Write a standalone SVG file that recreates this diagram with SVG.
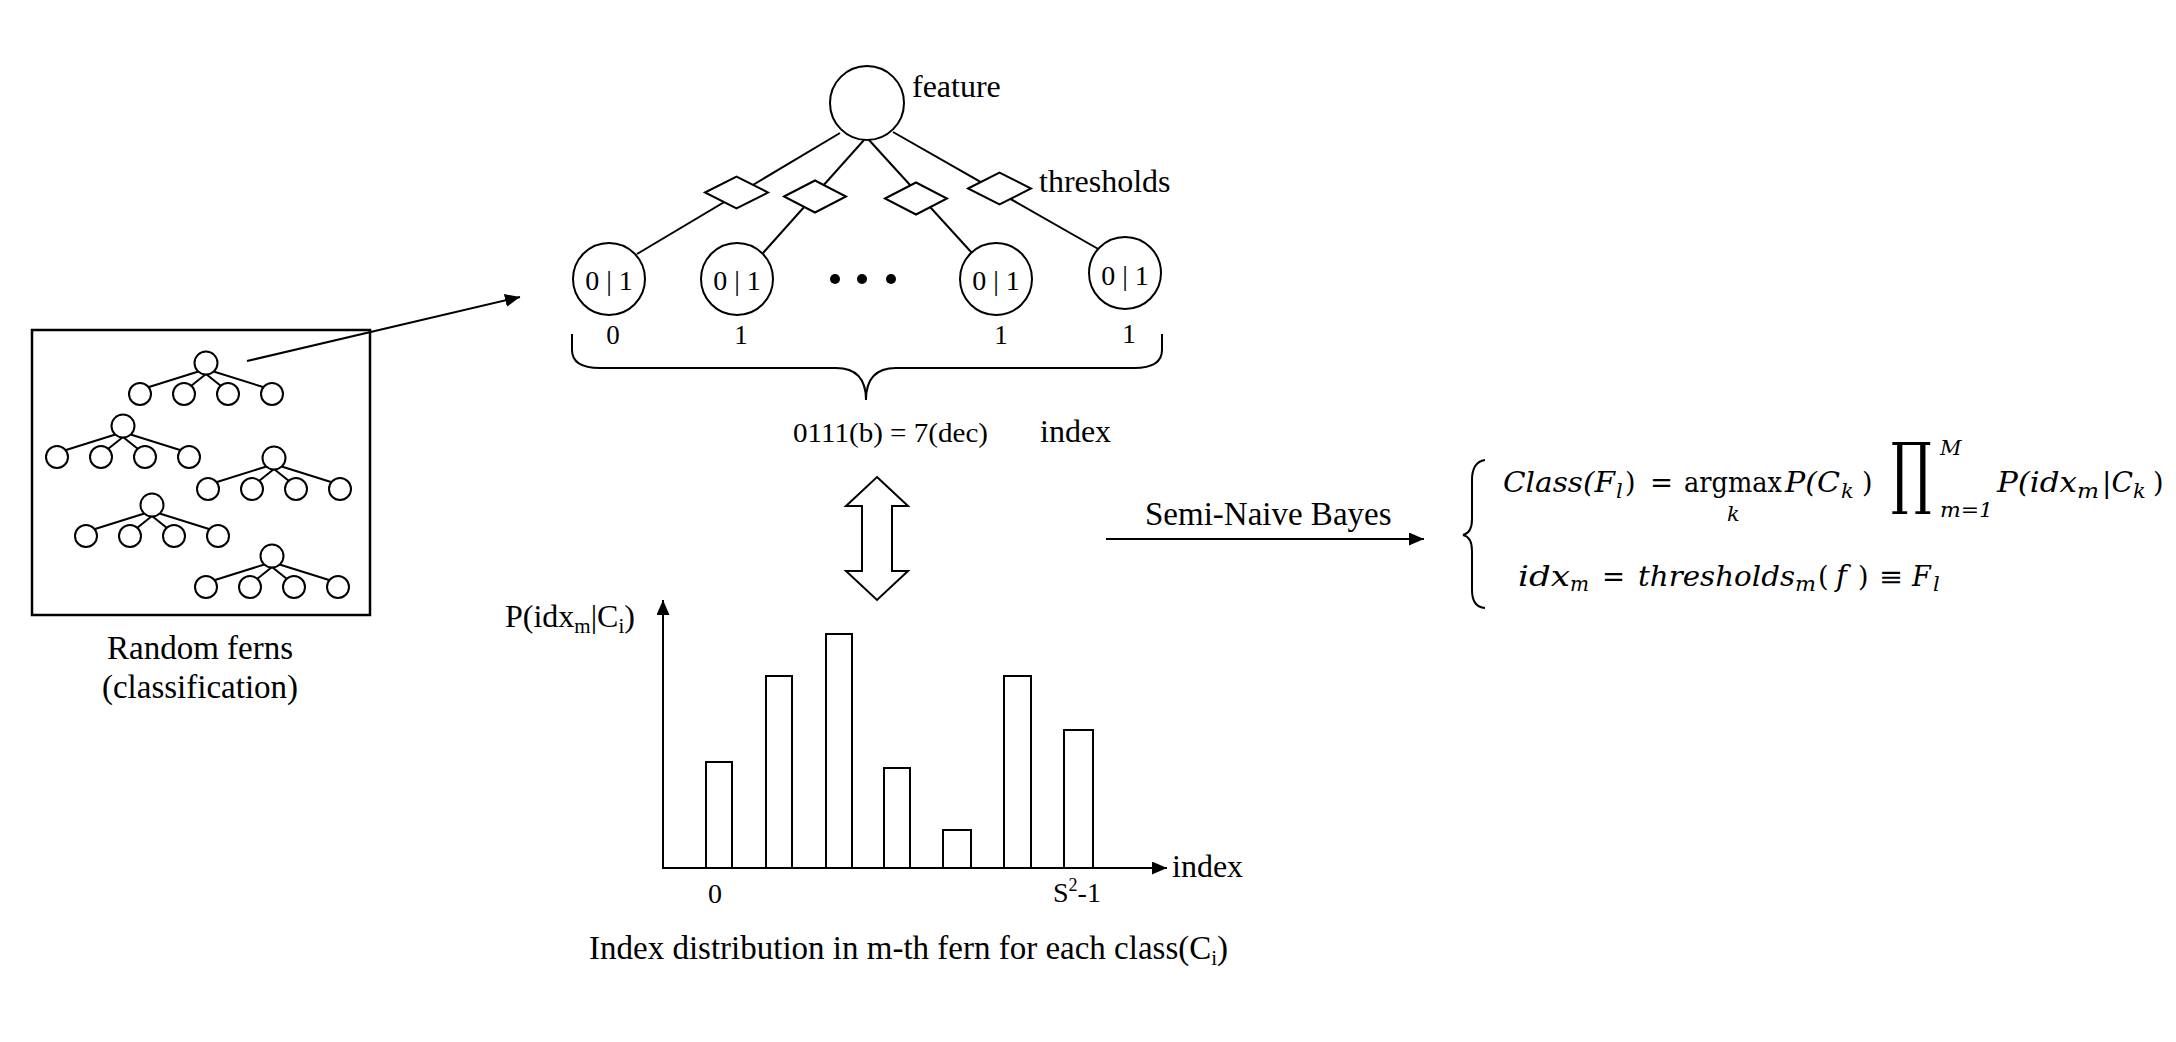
<svg xmlns="http://www.w3.org/2000/svg" xmlns:xlink="http://www.w3.org/1999/xlink" width="2176" height="1042" viewBox="0 0 2176 1042">
<style>
.ln{stroke:#000;stroke-width:2;fill:none}
.nd{stroke:#000;stroke-width:2;fill:#fff}
.tx{font-family:"Liberation Serif","Times New Roman",serif;fill:#000}
.mi{font-family:"DejaVu Serif",serif;font-style:italic;fill:#000}
.mu{font-family:"DejaVu Serif",serif;fill:#000}
.m27{font-size:27px}
.m19{font-size:21px}
.dot{fill:#000}
</style>
<defs>
<marker id="ah" markerUnits="userSpaceOnUse" markerWidth="16" markerHeight="14" refX="15" refY="6.5" orient="auto">
<path d="M0,0 L15,6.5 L0,13 z" fill="#000"/>
</marker>
<g id="fern">
<path class="ln" d="M-6,8 L-57,24 M0,11 L-15,23 M0,11 L15,23 M6,8 L57,24"/>
<circle class="nd" cx="0" cy="0" r="11.5"/>
<circle class="nd" cx="-66" cy="31" r="11"/>
<circle class="nd" cx="-22" cy="31" r="11"/>
<circle class="nd" cx="22" cy="31" r="11"/>
<circle class="nd" cx="66" cy="31" r="11"/>
</g>
</defs>
<rect width="2176" height="1042" fill="#fff"/>

<g id="connectors">
<line class="ln" x1="840" y1="133" x2="637" y2="254"/>
<line class="ln" x1="864" y1="140" x2="763" y2="253"/>
<line class="ln" x1="869" y1="140" x2="972" y2="253"/>
<line class="ln" x1="893" y1="132" x2="1100" y2="250"/>
<line class="ln" x1="247" y1="361" x2="520" y2="297" marker-end="url(#ah)"/>
<line class="ln" x1="1106" y1="539" x2="1424" y2="539" marker-end="url(#ah)"/>
</g>

<g id="ferns-box">
<rect x="32" y="330" width="338" height="285" fill="none" stroke="#000" stroke-width="2.5"/>
<use xlink:href="#fern" href="#fern" x="206" y="363"/>
<use xlink:href="#fern" href="#fern" x="123" y="426"/>
<use xlink:href="#fern" href="#fern" x="274" y="458"/>
<use xlink:href="#fern" href="#fern" x="152" y="505"/>
<use xlink:href="#fern" href="#fern" x="272" y="556"/>
<text class="tx" x="200" y="659" font-size="33" text-anchor="middle">Random ferns</text>
<text class="tx" x="200" y="698" font-size="33" text-anchor="middle">(classification)</text>
</g>

<g id="root">
<circle class="nd" cx="867" cy="103" r="37"/>
<text class="tx" x="912" y="97" font-size="32">feature</text>
</g>
<g id="thresholds">
<path class="nd" d="M705,192.5 L736.5,176.5 L768,192.5 L736.5,208.5 z"/>
<path class="nd" d="M784,196.5 L815,180.5 L846,196.5 L815,212.5 z"/>
<path class="nd" d="M885,198.5 L916,182.5 L947,198.5 L916,214.5 z"/>
<path class="nd" d="M968,188.5 L999.5,172.5 L1031,188.5 L999.5,204.5 z"/>
<text class="tx" x="1039" y="192" font-size="32">thresholds</text>
</g>
<g id="leaf1">
<circle class="nd" cx="609" cy="279" r="36"/>
<text class="tx" x="609" y="290" font-size="28" text-anchor="middle">0 | 1</text>
<text class="tx" x="613" y="344" font-size="27" text-anchor="middle">0</text>
</g>
<g id="leaf2">
<circle class="nd" cx="737" cy="279" r="36"/>
<text class="tx" x="737" y="290" font-size="28" text-anchor="middle">0 | 1</text>
<text class="tx" x="741" y="344" font-size="27" text-anchor="middle">1</text>
</g>
<g id="ellipsis">
<circle class="dot" cx="835" cy="279" r="5"/>
<circle class="dot" cx="862" cy="279" r="5"/>
<circle class="dot" cx="891" cy="279" r="5"/>
</g>
<g id="leaf3">
<circle class="nd" cx="996" cy="279" r="36"/>
<text class="tx" x="996" y="290" font-size="28" text-anchor="middle">0 | 1</text>
<text class="tx" x="1001" y="344" font-size="27" text-anchor="middle">1</text>
</g>
<g id="leaf4">
<circle class="nd" cx="1125" cy="273" r="36"/>
<text class="tx" x="1125" y="285" font-size="28" text-anchor="middle">0 | 1</text>
<text class="tx" x="1129" y="343" font-size="27" text-anchor="middle">1</text>
</g>

<g id="brace">
<path class="ln" d="M572,334 L572,350 Q572,368 600,368 L836,368 Q866,368 866,400 Q866,368 896,368 L1134,368 Q1162,368 1162,350 L1162,334"/>
<text class="tx" x="793" y="442" font-size="28" textLength="195" lengthAdjust="spacingAndGlyphs">0111(b) = 7(dec)</text>
<text class="tx" x="1040" y="442" font-size="32">index</text>
</g>

<g id="double-arrow">
<path class="nd" d="M877,477 L908,506 L892,506 L892,571 L908,571 L877,600 L846,571 L862,571 L862,506 L846,506 z"/>
</g>

<g id="histogram">
<line class="ln" x1="663" y1="868" x2="663" y2="600" marker-end="url(#ah)"/>
<line class="ln" x1="662" y1="868" x2="1167" y2="868" marker-end="url(#ah)"/>
<rect class="nd" x="706" y="762" width="26" height="106"/>
<rect class="nd" x="766" y="676" width="26" height="192"/>
<rect class="nd" x="826" y="634" width="26" height="234"/>
<rect class="nd" x="884" y="768" width="26" height="100"/>
<rect class="nd" x="943" y="830" width="28" height="38"/>
<rect class="nd" x="1004" y="676" width="27" height="192"/>
<rect class="nd" x="1064" y="730" width="29" height="138"/>
<text class="tx" x="505" y="627" font-size="32">P(idx<tspan font-size="21" dy="6">m</tspan><tspan dy="-6">|C</tspan><tspan font-size="21" dy="6">i</tspan><tspan dy="-6">)</tspan></text>
<text class="tx" x="1172" y="877" font-size="32">index</text>
<text class="tx" x="715" y="903" font-size="28" text-anchor="middle">0</text>
<text class="tx" x="1053" y="902" font-size="28">S<tspan font-size="18" dy="-11">2</tspan><tspan dy="11">-1</tspan></text>
<text class="tx" x="589" y="959" font-size="33">Index distribution in m-th fern for each class(C<tspan font-size="21" dy="6">i</tspan><tspan dy="-6">)</tspan></text>
</g>

<g id="semi-naive">
<text class="tx" x="1145" y="525" font-size="33">Semi-Naive Bayes</text>
</g>

<g id="formula">
<path class="ln" d="M1485,460 Q1472,462 1472,480 L1472,519 Q1472,533 1463,535 Q1472,537 1472,551 L1472,590 Q1472,607 1485,608"/>
<text class="mi m27" x="1503" y="492" textLength="112" lengthAdjust="spacingAndGlyphs">Class(F</text>
<text class="mi m19" x="1616" y="498">l</text>
<text class="mu m27" x="1625" y="492">)</text>
<text class="mu m27" x="1650" y="492" textLength="23" lengthAdjust="spacingAndGlyphs">=</text>
<text class="mu m27" x="1684" y="492" textLength="98" lengthAdjust="spacingAndGlyphs">argmax</text>
<text class="mi m19" x="1727" y="521">k</text>
<text class="mi m27" x="1785" y="492" textLength="55" lengthAdjust="spacingAndGlyphs">P(C</text>
<text class="mi m19" x="1841" y="498">k</text>
<text class="mu m27" x="1862" y="492">)</text>
<text class="mu" transform="translate(1891,499) scale(0.85,1.32)" x="0" y="0" style="font-size:60px">∏</text>
<text class="mi m19" x="1940" y="455">M</text>
<text class="mi m19" x="1940" y="517" textLength="53" lengthAdjust="spacingAndGlyphs">m=1</text>
<text class="mi m27" x="1997" y="492" textLength="80" lengthAdjust="spacingAndGlyphs">P(idx</text>
<text class="mi m19" x="2077" y="498" textLength="22" lengthAdjust="spacingAndGlyphs">m</text>
<text class="mi m27" x="2102" y="492" textLength="31" lengthAdjust="spacingAndGlyphs">|C</text>
<text class="mi m19" x="2133" y="498">k</text>
<text class="mu m27" x="2153" y="492">)</text>
<text class="mi m27" x="1518" y="586" textLength="52" lengthAdjust="spacingAndGlyphs">idx</text>
<text class="mi m19" x="1570" y="591" textLength="19" lengthAdjust="spacingAndGlyphs">m</text>
<text class="mu m27" x="1602" y="586" textLength="23" lengthAdjust="spacingAndGlyphs">=</text>
<text class="mi m27" x="1638" y="586" textLength="157" lengthAdjust="spacingAndGlyphs">thresholds</text>
<text class="mi m19" x="1795" y="591" textLength="21" lengthAdjust="spacingAndGlyphs">m</text>
<text class="mu m27" x="1818" y="586">(</text>
<text class="mi" x="1836" y="586" style="font-size:29px">f</text>
<text class="mu m27" x="1858" y="586">)</text>
<text class="mu m27" x="1879" y="586" textLength="24" lengthAdjust="spacingAndGlyphs">≡</text>
<text class="mi m27" x="1912" y="586">F</text>
<text class="mi m19" x="1933" y="591">l</text>
</g>
</svg>
